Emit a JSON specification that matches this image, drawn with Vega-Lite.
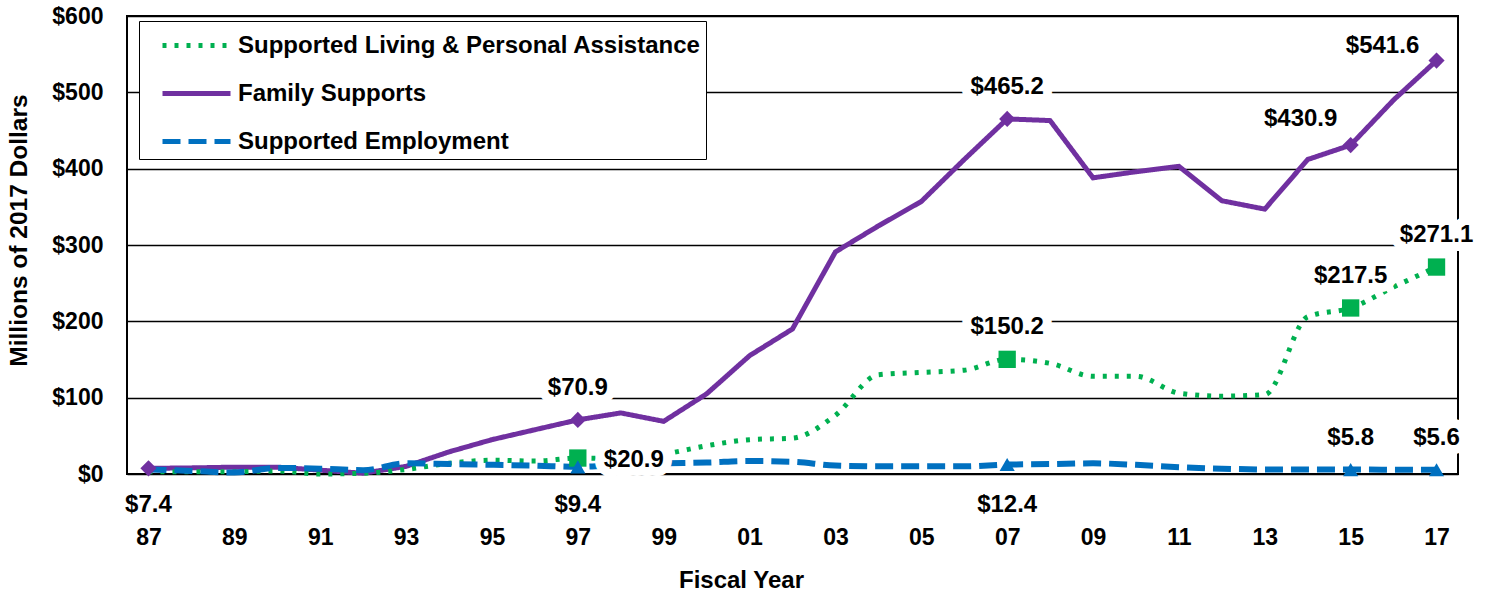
{
  "$schema": "https://vega.github.io/schema/vega-lite/v6.json",
  "width": 1331,
  "height": 458,
  "autosize": "none",
  "padding": {"left": 127, "top": 16, "right": 32, "bottom": 121},
  "background": "white",
  "config": {
    "font": "Liberation Sans",
    "view": {"stroke": "black", "strokeWidth": 2},
    "axis": {"labelFont": "Liberation Sans", "titleFont": "Liberation Sans", "labelFontWeight": "bold", "titleFontWeight": "bold", "labelColor": "black", "titleColor": "black", "labelFontSize": 23, "titleFontSize": 24, "domain": false, "ticks": false},
    "text": {"font": "Liberation Sans", "fontSize": 24, "fontWeight": "bold"}
  },
  "datasets": {
    "series": [
      {"year": 1987, "series": "Family Supports", "value": 7.4},
      {"year": 1988, "series": "Family Supports", "value": 8},
      {"year": 1989, "series": "Family Supports", "value": 9},
      {"year": 1990, "series": "Family Supports", "value": 9},
      {"year": 1991, "series": "Family Supports", "value": 5},
      {"year": 1992, "series": "Family Supports", "value": 1},
      {"year": 1993, "series": "Family Supports", "value": 10},
      {"year": 1994, "series": "Family Supports", "value": 29},
      {"year": 1995, "series": "Family Supports", "value": 45},
      {"year": 1996, "series": "Family Supports", "value": 58},
      {"year": 1997, "series": "Family Supports", "value": 70.9},
      {"year": 1998, "series": "Family Supports", "value": 80},
      {"year": 1999, "series": "Family Supports", "value": 69},
      {"year": 2000, "series": "Family Supports", "value": 105},
      {"year": 2001, "series": "Family Supports", "value": 155},
      {"year": 2002, "series": "Family Supports", "value": 190},
      {"year": 2003, "series": "Family Supports", "value": 291},
      {"year": 2004, "series": "Family Supports", "value": 325},
      {"year": 2005, "series": "Family Supports", "value": 357},
      {"year": 2006, "series": "Family Supports", "value": 412},
      {"year": 2007, "series": "Family Supports", "value": 465.2},
      {"year": 2008, "series": "Family Supports", "value": 463},
      {"year": 2009, "series": "Family Supports", "value": 388},
      {"year": 2010, "series": "Family Supports", "value": 396},
      {"year": 2011, "series": "Family Supports", "value": 403},
      {"year": 2012, "series": "Family Supports", "value": 358},
      {"year": 2013, "series": "Family Supports", "value": 347},
      {"year": 2014, "series": "Family Supports", "value": 412},
      {"year": 2015, "series": "Family Supports", "value": 430.9},
      {"year": 2016, "series": "Family Supports", "value": 490},
      {"year": 2017, "series": "Family Supports", "value": 541.6},
      {"year": 1987, "series": "Supported Living & Personal Assistance", "value": 3},
      {"year": 1988, "series": "Supported Living & Personal Assistance", "value": 3},
      {"year": 1989, "series": "Supported Living & Personal Assistance", "value": 3},
      {"year": 1990, "series": "Supported Living & Personal Assistance", "value": 4},
      {"year": 1991, "series": "Supported Living & Personal Assistance", "value": 0},
      {"year": 1992, "series": "Supported Living & Personal Assistance", "value": 1},
      {"year": 1993, "series": "Supported Living & Personal Assistance", "value": 6},
      {"year": 1994, "series": "Supported Living & Personal Assistance", "value": 14},
      {"year": 1995, "series": "Supported Living & Personal Assistance", "value": 18},
      {"year": 1996, "series": "Supported Living & Personal Assistance", "value": 17},
      {"year": 1997, "series": "Supported Living & Personal Assistance", "value": 20.9},
      {"year": 1998, "series": "Supported Living & Personal Assistance", "value": 20},
      {"year": 1999, "series": "Supported Living & Personal Assistance", "value": 26},
      {"year": 2000, "series": "Supported Living & Personal Assistance", "value": 37},
      {"year": 2001, "series": "Supported Living & Personal Assistance", "value": 45},
      {"year": 2002, "series": "Supported Living & Personal Assistance", "value": 47},
      {"year": 2003, "series": "Supported Living & Personal Assistance", "value": 77},
      {"year": 2004, "series": "Supported Living & Personal Assistance", "value": 130},
      {"year": 2005, "series": "Supported Living & Personal Assistance", "value": 133},
      {"year": 2006, "series": "Supported Living & Personal Assistance", "value": 136},
      {"year": 2007, "series": "Supported Living & Personal Assistance", "value": 150.2},
      {"year": 2008, "series": "Supported Living & Personal Assistance", "value": 145},
      {"year": 2009, "series": "Supported Living & Personal Assistance", "value": 128},
      {"year": 2010, "series": "Supported Living & Personal Assistance", "value": 128},
      {"year": 2011, "series": "Supported Living & Personal Assistance", "value": 106},
      {"year": 2012, "series": "Supported Living & Personal Assistance", "value": 102},
      {"year": 2013, "series": "Supported Living & Personal Assistance", "value": 104},
      {"year": 2014, "series": "Supported Living & Personal Assistance", "value": 206},
      {"year": 2015, "series": "Supported Living & Personal Assistance", "value": 217.5},
      {"year": 2016, "series": "Supported Living & Personal Assistance", "value": 245},
      {"year": 2017, "series": "Supported Living & Personal Assistance", "value": 271.1},
      {"year": 1987, "series": "Supported Employment", "value": 6},
      {"year": 1988, "series": "Supported Employment", "value": 4},
      {"year": 1989, "series": "Supported Employment", "value": 2},
      {"year": 1990, "series": "Supported Employment", "value": 8},
      {"year": 1991, "series": "Supported Employment", "value": 7},
      {"year": 1992, "series": "Supported Employment", "value": 5},
      {"year": 1993, "series": "Supported Employment", "value": 14},
      {"year": 1994, "series": "Supported Employment", "value": 13},
      {"year": 1995, "series": "Supported Employment", "value": 12},
      {"year": 1996, "series": "Supported Employment", "value": 11},
      {"year": 1997, "series": "Supported Employment", "value": 9.4},
      {"year": 1998, "series": "Supported Employment", "value": 12},
      {"year": 1999, "series": "Supported Employment", "value": 14},
      {"year": 2000, "series": "Supported Employment", "value": 15},
      {"year": 2001, "series": "Supported Employment", "value": 17},
      {"year": 2002, "series": "Supported Employment", "value": 16},
      {"year": 2003, "series": "Supported Employment", "value": 11},
      {"year": 2004, "series": "Supported Employment", "value": 10},
      {"year": 2005, "series": "Supported Employment", "value": 10},
      {"year": 2006, "series": "Supported Employment", "value": 10},
      {"year": 2007, "series": "Supported Employment", "value": 12.4},
      {"year": 2008, "series": "Supported Employment", "value": 13},
      {"year": 2009, "series": "Supported Employment", "value": 14},
      {"year": 2010, "series": "Supported Employment", "value": 12},
      {"year": 2011, "series": "Supported Employment", "value": 9},
      {"year": 2012, "series": "Supported Employment", "value": 7},
      {"year": 2013, "series": "Supported Employment", "value": 6},
      {"year": 2014, "series": "Supported Employment", "value": 6},
      {"year": 2015, "series": "Supported Employment", "value": 5.8},
      {"year": 2016, "series": "Supported Employment", "value": 5.7},
      {"year": 2017, "series": "Supported Employment", "value": 5.6}
    ],
    "labels": [
      {"year": 1987, "series": "Family Supports", "value": 7.4, "label": "$7.4"},
      {"year": 1997, "series": "Family Supports", "value": 70.9, "label": "$70.9"},
      {"year": 2007, "series": "Family Supports", "value": 465.2, "label": "$465.2"},
      {"year": 2015, "series": "Family Supports", "value": 430.9, "label": "$430.9"},
      {"year": 2017, "series": "Family Supports", "value": 541.6, "label": "$541.6"},
      {"year": 1997, "series": "Supported Living & Personal Assistance", "value": 20.9, "label": "$20.9"},
      {"year": 2007, "series": "Supported Living & Personal Assistance", "value": 150.2, "label": "$150.2"},
      {"year": 2015, "series": "Supported Living & Personal Assistance", "value": 217.5, "label": "$217.5"},
      {"year": 2017, "series": "Supported Living & Personal Assistance", "value": 271.1, "label": "$271.1"},
      {"year": 1997, "series": "Supported Employment", "value": 9.4, "label": "$9.4"},
      {"year": 2007, "series": "Supported Employment", "value": 12.4, "label": "$12.4"},
      {"year": 2015, "series": "Supported Employment", "value": 5.8, "label": "$5.8"},
      {"year": 2017, "series": "Supported Employment", "value": 5.6, "label": "$5.6"}
    ]
  },
  "encoding": {
    "x": {"field": "year", "type": "quantitative", "scale": {"domain": [1986.5, 2017.5], "nice": false, "zero": false},
      "axis": {"title": "Fiscal Year", "values": [1987, 1989, 1991, 1993, 1995, 1997, 1999, 2001, 2003, 2005, 2007, 2009, 2011, 2013, 2015, 2017], "labelExpr": "slice(toString(datum.value), 2)", "grid": false, "labelPadding": 52, "titlePadding": 19, "titleX": 614}},
    "y": {"field": "value", "type": "quantitative", "scale": {"domain": [0, 600], "nice": false},
      "axis": {"title": "Millions of 2017 Dollars", "titleFontSize": 24.5, "titleY": 214, "values": [0, 100, 200, 300, 400, 500, 600], "labelExpr": "'$' + datum.value", "grid": true, "gridColor": "black", "gridWidth": 1.5, "gridOpacity": 1, "labelPadding": 24, "titlePadding": 20}}
  },
  "layer": [
    {
      "data": {"name": "series"},
      "transform": [{"filter": "datum.series === 'Family Supports'"}],
      "mark": {"type": "line", "strokeWidth": 5, "strokeJoin": "miter"},
      "encoding": {
        "color": {"field": "series", "type": "nominal", "scale": {"domain": ["Supported Living & Personal Assistance", "Family Supports", "Supported Employment"], "range": ["#00B050", "#7030A0", "#0070C0"]},
          "legend": {"title": null, "orient": "none", "legendX": 12, "legendY": 5, "labelFont": "Liberation Sans", "labelFontWeight": "bold", "labelFontSize": 24, "labelColor": "black", "labelLimit": 700, "symbolType": "M-2,0H2", "symbolSize": 1156, "symbolStrokeWidth": 5, "symbolOffset": 33, "labelOffset": 22, "rowPadding": 16, "padding": 5, "fillColor": "white", "strokeColor": "black"}},
        "strokeDash": {"field": "series", "type": "nominal", "scale": {"domain": ["Supported Living & Personal Assistance", "Family Supports", "Supported Employment"], "range": [[4, 8], [1, 0], [18, 8]]},
          "legend": {"title": null, "orient": "none", "legendX": 12, "legendY": 5, "labelFont": "Liberation Sans", "labelFontWeight": "bold", "labelFontSize": 24, "labelColor": "black", "labelLimit": 700, "symbolType": "M-2,0H2", "symbolSize": 1156, "symbolStrokeWidth": 5, "symbolOffset": 33, "labelOffset": 22, "rowPadding": 16, "padding": 5, "fillColor": "white", "strokeColor": "black"}}
      }
    },
    {
      "data": {"name": "series"},
      "transform": [{"filter": "datum.series === 'Supported Living & Personal Assistance'"}],
      "mark": {"type": "line", "strokeWidth": 5, "interpolate": "monotone"},
      "encoding": {
        "color": {"field": "series", "type": "nominal"},
        "strokeDash": {"field": "series", "type": "nominal"}
      }
    },
    {
      "data": {"name": "series"},
      "transform": [{"filter": "datum.series === 'Supported Employment'"}],
      "mark": {"type": "line", "strokeWidth": 6, "interpolate": "monotone"},
      "encoding": {
        "color": {"field": "series", "type": "nominal"},
        "strokeDash": {"field": "series", "type": "nominal"}
      }
    },
    {
      "data": {"name": "labels"},
      "transform": [{"filter": {"field": "label", "oneOf": ["$70.9", "$465.2", "$150.2", "$217.5", "$271.1", "$5.8", "$5.6"]}}],
      "mark": {"type": "text", "fill": "white", "stroke": "white", "strokeWidth": 18, "strokeJoin": "round", "dy": -32},
      "encoding": {"text": {"field": "label"}}
    },
    {
      "data": {"name": "labels"},
      "transform": [{"filter": {"field": "label", "oneOf": ["$7.4", "$9.4", "$12.4"]}}],
      "mark": {"type": "text", "fill": "white", "stroke": "white", "strokeWidth": 18, "strokeJoin": "round", "dy": 31},
      "encoding": {"text": {"field": "label"}, "y": {"datum": 0}}
    },
    {
      "data": {"name": "labels"},
      "transform": [{"filter": {"field": "label", "oneOf": ["$430.9"]}}],
      "mark": {"type": "text", "fill": "white", "stroke": "white", "strokeWidth": 18, "strokeJoin": "round", "dx": -50, "dy": -26},
      "encoding": {"text": {"field": "label"}}
    },
    {
      "data": {"name": "labels"},
      "transform": [{"filter": {"field": "label", "oneOf": ["$541.6"]}}],
      "mark": {"type": "text", "fill": "white", "stroke": "white", "strokeWidth": 18, "strokeJoin": "round", "dx": -54, "dy": -15},
      "encoding": {"text": {"field": "label"}}
    },
    {
      "data": {"name": "labels"},
      "transform": [{"filter": {"field": "label", "oneOf": ["$20.9"]}}],
      "mark": {"type": "text", "fill": "white", "stroke": "white", "strokeWidth": 18, "strokeJoin": "round", "dx": 56, "dy": 2},
      "encoding": {"text": {"field": "label"}}
    },
    {
      "data": {"name": "labels"},
      "transform": [{"filter": "datum.series === 'Family Supports'"}],
      "mark": {"type": "point", "shape": "diamond", "filled": true, "opacity": 1, "color": "#7030A0", "size": 260}
    },
    {
      "data": {"name": "labels"},
      "transform": [{"filter": "datum.series === 'Supported Living & Personal Assistance'"}],
      "mark": {"type": "point", "shape": "square", "filled": true, "opacity": 1, "color": "#00B050", "size": 300}
    },
    {
      "data": {"name": "labels"},
      "transform": [{"filter": "datum.series === 'Supported Employment'"}],
      "mark": {"type": "point", "shape": "triangle-up", "filled": true, "opacity": 1, "color": "#0070C0", "size": 230}
    },
    {
      "data": {"name": "labels"},
      "transform": [{"filter": {"field": "label", "oneOf": ["$70.9", "$465.2", "$150.2", "$217.5", "$271.1", "$5.8", "$5.6"]}}],
      "mark": {"type": "text", "fill": "black", "dy": -32},
      "encoding": {"text": {"field": "label"}}
    },
    {
      "data": {"name": "labels"},
      "transform": [{"filter": {"field": "label", "oneOf": ["$7.4", "$9.4", "$12.4"]}}],
      "mark": {"type": "text", "fill": "black", "dy": 31},
      "encoding": {"text": {"field": "label"}, "y": {"datum": 0}}
    },
    {
      "data": {"name": "labels"},
      "transform": [{"filter": {"field": "label", "oneOf": ["$430.9"]}}],
      "mark": {"type": "text", "fill": "black", "dx": -50, "dy": -26},
      "encoding": {"text": {"field": "label"}}
    },
    {
      "data": {"name": "labels"},
      "transform": [{"filter": {"field": "label", "oneOf": ["$541.6"]}}],
      "mark": {"type": "text", "fill": "black", "dx": -54, "dy": -15},
      "encoding": {"text": {"field": "label"}}
    },
    {
      "data": {"name": "labels"},
      "transform": [{"filter": {"field": "label", "oneOf": ["$20.9"]}}],
      "mark": {"type": "text", "fill": "black", "dx": 56, "dy": 2},
      "encoding": {"text": {"field": "label"}}
    }
  ]
}
